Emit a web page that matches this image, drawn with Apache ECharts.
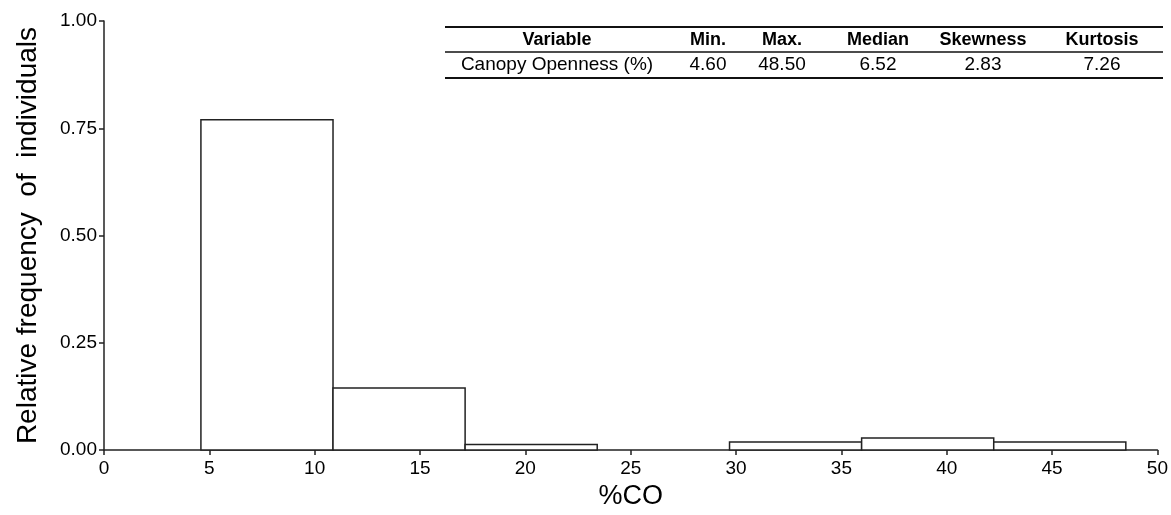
<!DOCTYPE html>
<html>
<head>
<meta charset="utf-8">
<script src="https://cdn.jsdelivr.net/npm/echarts@6/dist/echarts.min.js"></script>
<style>
  html, body { margin: 0; padding: 0; background: #fff; }
  #chart { width: 1171px; height: 515px; }
</style>
</head>
<body>
<div id="chart"></div>
<script>
// histogram bins of canopy openness (%CO)
const binStart = [4.60, 10.87, 17.14, 23.41, 29.69, 35.96, 42.23];
const binEnd   = [10.87, 17.14, 23.41, 29.69, 35.96, 42.23, 48.50];
const relFreq  = [0.770, 0.145, 0.013, 0.000, 0.019, 0.028, 0.019];

// summary table
const tableHeader = ['Variable', 'Min.', 'Max.', 'Median', 'Skewness', 'Kurtosis'];
const tableRow    = ['Canopy Openness (%)', '4.60', '48.50', '6.52', '2.83', '7.26'];
const colCenters  = [557, 708, 782, 878, 983, 1102];

const font = 'Arial, "Liberation Sans", Helvetica, sans-serif';

const chart = echarts.init(document.getElementById('chart'));

const tableGraphics = [];
[27, 78].forEach(y => tableGraphics.push({
  type: 'line', shape: { x1: 445, y1: y, x2: 1163, y2: y },
  style: { stroke: '#111', lineWidth: 2 }
}));
tableGraphics.push({
  type: 'line', shape: { x1: 445, y1: 52, x2: 1163, y2: 52 },
  style: { stroke: '#111', lineWidth: 1.5 }
});
tableHeader.forEach((t, i) => tableGraphics.push({
  type: 'text', x: colCenters[i], y: 40,
  style: { text: t, fill: '#000', font: 'bold 18px ' + font, align: 'center', verticalAlign: 'middle' }
}));
tableRow.forEach((t, i) => tableGraphics.push({
  type: 'text', x: colCenters[i], y: 65,
  style: { text: t, fill: '#000', font: '19px ' + font, align: 'center', verticalAlign: 'middle' }
}));

const option = {
  animation: false,
  backgroundColor: '#fff',
  grid: { left: 104, right: 13, top: 21, bottom: 60, containLabel: false },
  xAxis: {
    type: 'value', min: 0, max: 50, interval: 5,
    name: '%CO', nameLocation: 'middle', nameGap: 30,
    nameTextStyle: { fontSize: 27, color: '#000', fontFamily: font },
    axisLine: { onZero: false, lineStyle: { color: '#222', width: 1.5 } },
    axisTick: { show: true, length: 5, lineStyle: { color: '#222', width: 1.5 } },
    axisLabel: { fontSize: 19, color: '#000', fontFamily: font, margin: 9 },
    splitLine: { show: false }
  },
  yAxis: {
    type: 'value', min: 0, max: 1, interval: 0.25,
    name: 'Relative frequency  of  individuals', nameLocation: 'middle', nameGap: 62,
    nameTextStyle: { fontSize: 28, color: '#000', fontFamily: font },
    axisLine: { show: true, lineStyle: { color: '#222', width: 1.5 } },
    axisTick: { show: true, length: 5, lineStyle: { color: '#222', width: 1.5 } },
    axisLabel: { fontSize: 19, color: '#000', fontFamily: font, margin: 7,
                 formatter: v => v.toFixed(2) },
    splitLine: { show: false }
  },
  graphic: tableGraphics,
  series: [{
    type: 'custom',
    data: binStart.map((s, i) => [s, binEnd[i], relFreq[i]]),
    encode: { x: [0, 1], y: 2 },
    renderItem: (params, api) => {
      if (api.value(2) <= 0) return null;
      const p0 = api.coord([api.value(0), 0]);
      const p1 = api.coord([api.value(1), api.value(2)]);
      return {
        type: 'rect',
        shape: { x: p0[0], y: p1[1], width: p1[0] - p0[0], height: p0[1] - p1[1] },
        style: { fill: '#fff', stroke: '#222', lineWidth: 1.5 }
      };
    }
  }]
};

chart.setOption(option);
</script>
</body>
</html>
